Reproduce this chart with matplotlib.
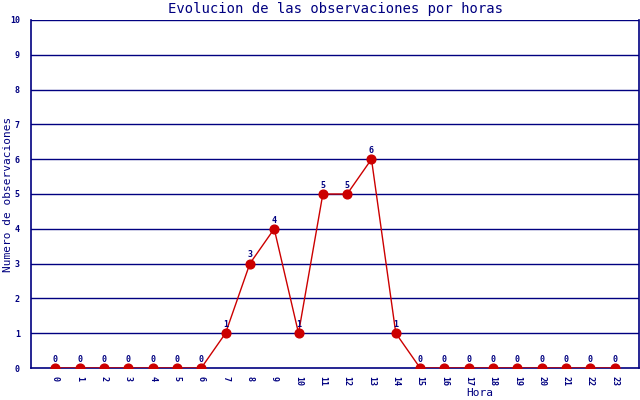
import matplotlib
matplotlib.use("Agg")
import matplotlib.pyplot as plt

hours = list(range(24))
counts = [0, 0, 0, 0, 0, 0, 0, 1, 3, 4, 1, 5, 5, 6, 1, 0, 0, 0, 0, 0, 0, 0, 0, 0]
yticks = list(range(11))

navy = "#000080"
red = "#cc0000"
plt.rcParams['font.family'] = ['DejaVu Sans Mono', 'DejaVu Sans']

fig = plt.figure(figsize=(6.4, 4.0), dpi=100)
ax = fig.add_axes([31/640, 32/400, 608/640, 348/400])
ax.set_xlim(-1, 24)
ax.set_ylim(0, 10)

for y in yticks[1:]:
    ax.axhline(y, color=navy, lw=1.0, zorder=1)

ax.plot(hours, counts, color=red, lw=1.0, marker='o', markersize=6.3,
        markerfacecolor=red, markeredgecolor=red, zorder=3)
for h, c in zip(hours, counts):
    ax.text(h, c + 0.12, str(c), ha='center', va='bottom', fontsize=6,
            color=navy, fontweight='bold', zorder=4)

ax.set_xticks(hours)
ax.set_xticklabels([str(h) for h in hours], rotation=-90, fontsize=6,
                   color=navy, fontweight='bold')
ax.set_yticks(yticks)
ax.set_yticklabels([str(y) for y in yticks], fontsize=6, color=navy,
                   fontweight='bold')
ax.tick_params(length=0, pad=6)
ax.tick_params(axis='y', pad=8)

for s in ['left', 'bottom', 'right']:
    ax.spines[s].set_color(navy)
    ax.spines[s].set_linewidth(1.2)
ax.spines['top'].set_visible(False)

fig.text(335/640, 1 - 9/400, "Evolucion de las observaciones por horas",
         ha='center', va='center', fontsize=10, color=navy)
fig.text(480/640, 1 - 393/400, "Hora", ha='center', va='center',
         fontsize=8, color=navy)
fig.text(8/640, 1 - 194/400, "Numero de observaciones", ha='center',
         va='center', rotation=90, fontsize=8, color=navy)

fig.savefig("out.png", dpi=100)
